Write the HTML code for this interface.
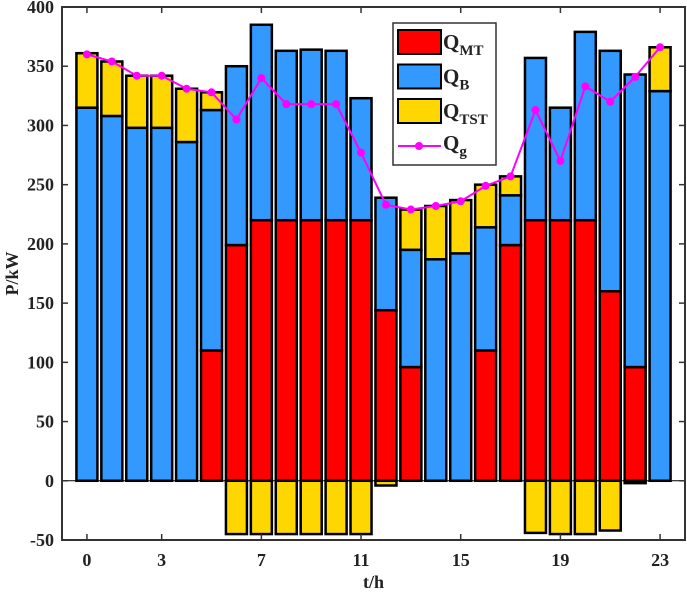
<!DOCTYPE html>
<html><head><meta charset="utf-8"><style>
html,body{margin:0;padding:0;background:#fff;}
svg text{font-family:"Liberation Serif",serif;font-weight:bold;fill:#222;}
</style></head><body>
<svg id="chart" width="687" height="594" xmlns="http://www.w3.org/2000/svg"></svg>
<script>
const hours = [0,1,2,3,4,5,6,7,8,9,10,11,12,13,14,15,16,17,18,19,20,21,22,23];
const qMT = [0,0,0,0,0,110,199,220,220,220,220,220,144,96,0,0,110,199,220,220,220,160,96,0];
const qB = [315,308,298,298,286,203,151,165,143,144,143,103,95,99,187,192,104,42,137,95,159,203,247,329];
const qTSTpos = [46,46,44,44,45,15,0,0,0,0,0,0,0,34,45,45,36,16,0,0,0,0,0,37];
const qTSTneg = [0,0,0,0,0,0,-45,-45,-45,-45,-45,-45,-4,0,0,0,0,0,-44,-45,-45,-42,-2,0];
const qG = [360,354,342,342,331,328,305,340,318,318,318,277,233,229,232,236,249,257,313,270,333,320,341,366];
const yTicks = [-50,0,50,100,150,200,250,300,350,400];
const xTicks = [0,3,7,11,15,19,23];

const NS="http://www.w3.org/2000/svg";
const svg=document.getElementById('chart');
const L=62,R=685,T=7,B=540;
const xMin=-1,xMax=24,yMin=-50,yMax=400;
const X=v=>L+(v-xMin)/(xMax-xMin)*(R-L);
const Y=v=>B-(v-yMin)/(yMax-yMin)*(B-T);
function mk(tag,attrs,parent){const e=document.createElementNS(NS,tag);for(const k in attrs)e.setAttribute(k,attrs[k]);(parent||svg).appendChild(e);return e;}

const barsG=mk('g',{});


const bw=21;
function seg(i,y0,y1,color,name){
  if(Math.abs(y1-y0)<0.01)return;
  const top=Math.min(Y(y0),Y(y1)),h=Math.abs(Y(y0)-Y(y1));
  const r=mk('rect',{x:X(hours[i])-bw/2,y:top,width:bw,height:h,fill:color,stroke:'#000','stroke-width':2.5},barsG);
  
  
}
hours.forEach((h,i)=>{
  let b=0;
  seg(i,b,b+qMT[i],'#ff0000','qmt');b+=qMT[i];
  seg(i,b,b+qB[i],'#3399ff','qb');b+=qB[i];
  seg(i,b,b+qTSTpos[i],'#ffd700','qtst');
  seg(i,0,qTSTneg[i],'#ffd700','qtst-neg');
});
const zl=mk('line',{x1:L,x2:R,y1:Y(0),y2:Y(0),stroke:'#000','stroke-width':1});



const pts=hours.map((h,i)=>X(h)+','+Y(qG[i])).join(' ');
const pl=mk('polyline',{points:pts,fill:'none',stroke:'#ff00ff','stroke-width':2});


hours.forEach((h,i)=>{
  const c=mk('circle',{cx:X(h),cy:Y(qG[i]),r:4,fill:'#ff00ff'});
  
  
});

const fr=mk('rect',{x:L,y:T,width:R-L,height:B-T,fill:'none',stroke:'#333','stroke-width':2});


yTicks.forEach(v=>{
  const l=mk('line',{x1:L,x2:L+6,y1:Y(v),y2:Y(v),stroke:'#333','stroke-width':1.5});
  
  
  const l2=mk('line',{x1:R,x2:R-6,y1:Y(v),y2:Y(v),stroke:'#333','stroke-width':1.5});
  
  
  const t=mk('text',{x:L-8,y:Y(v)+6,'text-anchor':'end','font-size':18});
  t.textContent=v;
  
  
});
xTicks.forEach(v=>{
  const l=mk('line',{x1:X(v),x2:X(v),y1:B,y2:B-6,stroke:'#333','stroke-width':1.5});
  
  
  const l2=mk('line',{x1:X(v),x2:X(v),y1:T,y2:T+6,stroke:'#333','stroke-width':1.5});
  
  
  const t=mk('text',{x:X(v),y:566,'text-anchor':'middle','font-size':18});
  t.textContent=v;
  
  
});
const xt=mk('text',{x:(L+R)/2,y:588,'text-anchor':'middle','font-size':18});
xt.textContent='t/h';


const yt=mk('text',{x:0,y:0,'text-anchor':'middle','font-size':18,transform:'translate(18,'+((T+B)/2)+') rotate(-90)'});
yt.textContent='P/kW';



const lg=mk('g',{});


mk('rect',{x:393,y:23,width:103,height:142,fill:'#fff',stroke:'#333','stroke-width':1.5},lg);
const items=[['#ff0000','MT'],['#3399ff','B'],['#ffd700','TST']];
items.forEach((it,k)=>{
  const y=30+k*34.5;
  const r=mk('rect',{x:398,y:y,width:43,height:24,fill:it[0],stroke:'#000','stroke-width':2},lg);
  
  
  const t=mk('text',{x:443,y:y+19,'font-size':21},lg);
  t.innerHTML='Q<tspan font-size="15" dy="6">'+it[1]+'</tspan>';
  
  
});
const ll=mk('line',{x1:398,x2:441,y1:146,y2:146,stroke:'#ff00ff','stroke-width':2},lg);


mk('circle',{cx:419,cy:146,r:4,fill:'#ff00ff'},lg);
const tg=mk('text',{x:443,y:150,'font-size':21},lg);
tg.innerHTML='Q<tspan font-size="15" dy="6">g</tspan>';


</script>
</body></html>
